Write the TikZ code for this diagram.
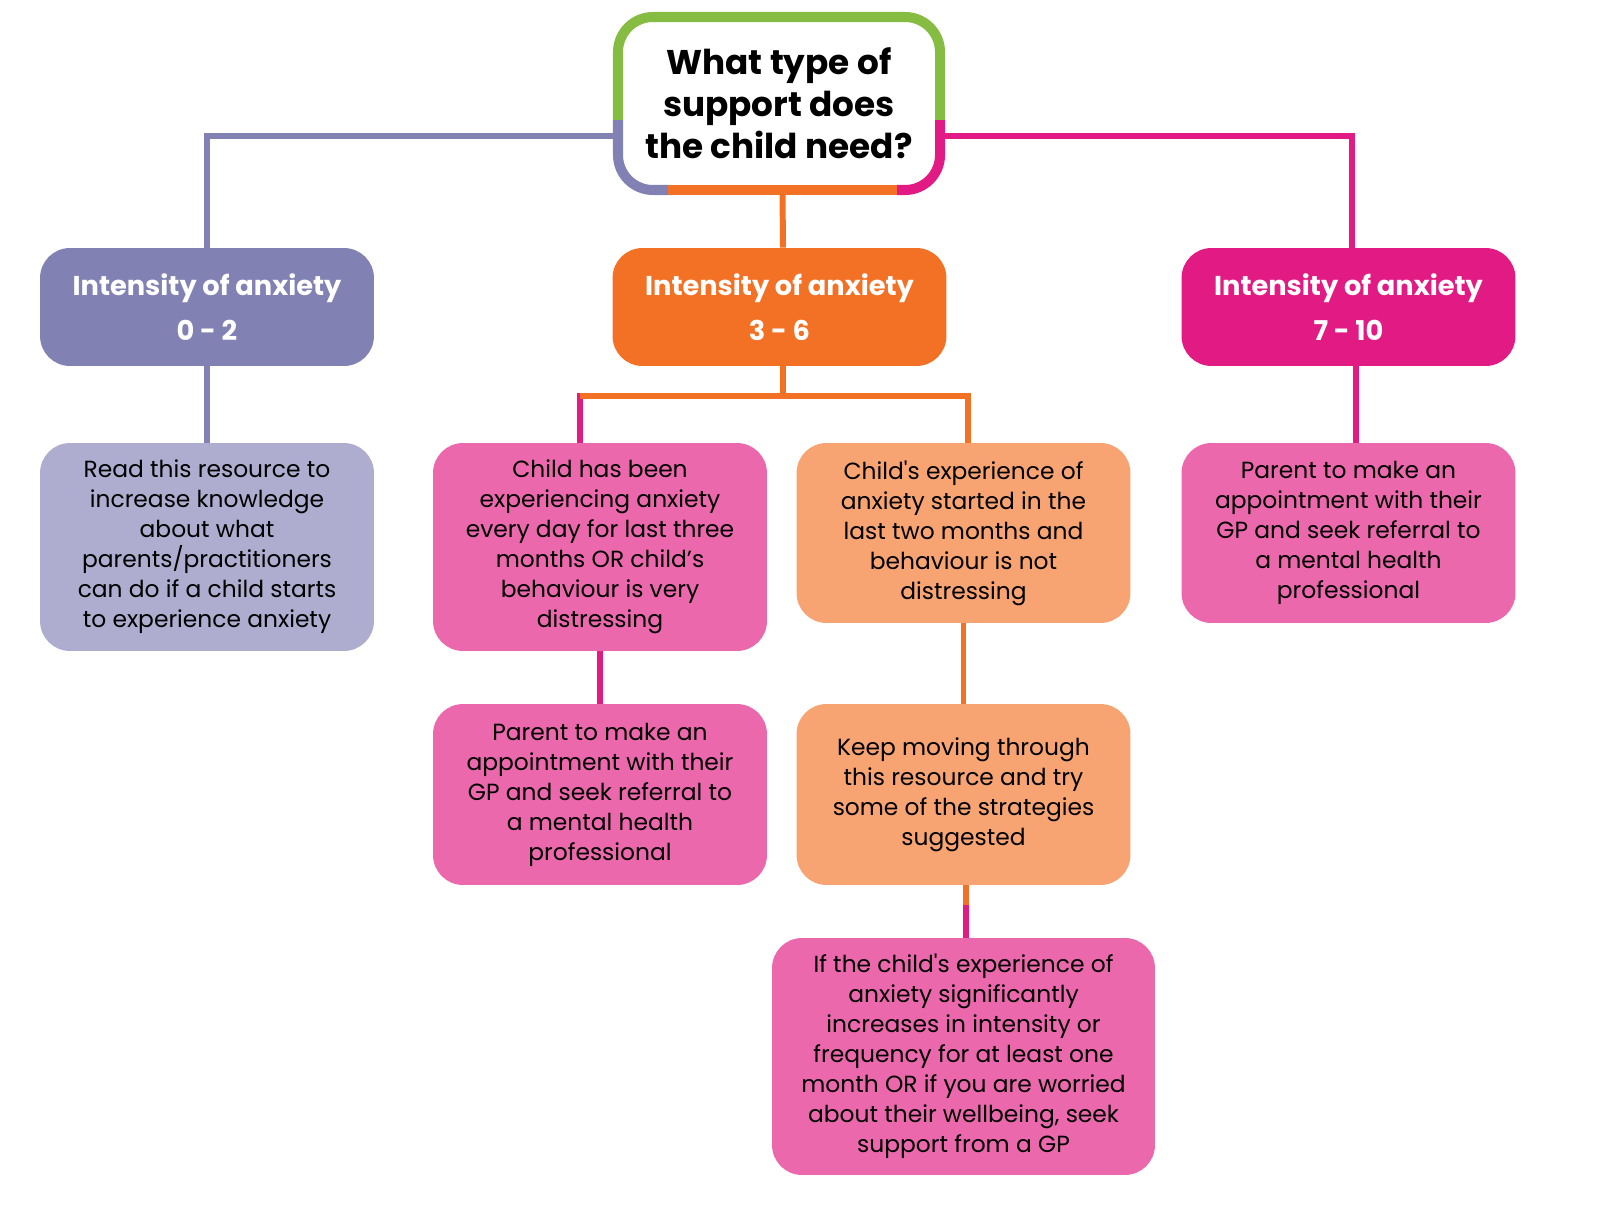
\documentclass[tikz,border=0pt]{standalone}
\usepackage{fontspec}
\setmainfont{Poppins}
\usetikzlibrary{positioning, backgrounds}

\definecolor{qgreen}{HTML}{86BC42}
\definecolor{lpurple}{HTML}{8281B3}
\definecolor{llpurple}{HTML}{AEADCF}
\definecolor{lorange}{HTML}{F37124}
\definecolor{llorange}{HTML}{F7A472}
\definecolor{lmagenta}{HTML}{E21A84}
\definecolor{lpink}{HTML}{EC68AD}

\tikzset{
  levelbox/.style={rounded corners=0.6cm, minimum width=6.68cm, minimum height=2.36cm,
    align=center, text=white, font=\bfseries\fontsize{15.5}{25.6}\selectfont},
  infobox/.style={rounded corners=0.6cm, minimum width=6.68cm, align=center,
    inner sep=0pt, font=\fontsize{13.3}{17.1}\selectfont},
  link/.style={line width=3.4pt}
}

\begin{document}
\begin{tikzpicture}[x=0.02cm, y=-0.02cm]
  \useasboundingbox (0,0) rectangle (1600,1207);

  % Question at the top
  \node[minimum width=6.44cm, minimum height=3.46cm, align=center,
        font=\bfseries\fontsize{19.5}{23.9}\selectfont] (q) at (779,103.5)
        {What type of\\support does\\the child need?};
  % its border in four colours
  \def\qrad{0.7cm}
  \draw[qgreen, line width=5.7pt, rounded corners=\qrad]
    (618,120) -- (618,17) -- (940,17) -- (940,120);
  \draw[lpurple, line width=5.7pt, rounded corners=\qrad]
    (618,120) -- (618,190) -- (668,190);
  \draw[lorange, line width=5.7pt] (668,190) -- (897,190);
  \draw[lmagenta, line width=5.7pt, rounded corners=\qrad]
    (897,190) -- (940,190) -- (940,120);

  % Intensity levels
  \node[levelbox, fill=lpurple] (l1) at (207,307) {Intensity of anxiety\\0 - 2};
  \node[levelbox, fill=lorange] (m1) at (779.5,307) {Intensity of anxiety\\3 - 6};
  \node[levelbox, fill=lmagenta] (r1) at (1348.5,307) {Intensity of anxiety\\7 - 10};

  % Second row
  \node[infobox, fill=llpurple, minimum height=4.16cm] (l2) at (207,547)
    {Read this resource to\\increase knowledge\\about what\\parents/practitioners\\can do if a child starts\\to experience anxiety};
  \node[infobox, fill=lpink, minimum height=4.16cm] (m2a) at (600,547)
    {Child has been\\experiencing anxiety\\every day for last three\\months OR child’s\\behaviour is very\\distressing};
  \node[infobox, fill=llorange, minimum height=3.6cm] (m2b) at (963.5,533)
    {Child\textquotesingle s experience of\\anxiety started in the\\last two months and\\behaviour is not\\distressing};
  \node[infobox, fill=lpink, minimum height=3.6cm] (r2) at (1348.5,533)
    {Parent to make an\\appointment with their\\GP and seek referral to\\a mental health\\professional};

  % Third row
  \node[infobox, fill=lpink, minimum height=3.62cm] (m3a) at (600,794.5)
    {Parent to make an\\appointment with their\\GP and seek referral to\\a mental health\\professional};
  \node[infobox, fill=llorange, minimum height=3.62cm] (m3b) at (963.5,794.5)
    {Keep moving through\\this resource and try\\some of the strategies\\suggested};

  % Last box
  \node[infobox, fill=lpink, minimum width=7.66cm, minimum height=4.74cm] (m4) at (963.5,1056.5)
    {If the child\textquotesingle s experience of\\anxiety significantly\\increases in intensity or\\frequency for at least one\\month OR if you are worried\\about their wellbeing, seek\\support from a GP};

  % Connectors, behind the boxes
  \begin{scope}[on background layer]
    \draw[link, lpurple] ([yshift=-0.65cm]q.west) -| (l1.north);
    \draw[link, lmagenta] ([yshift=-0.65cm]q.east) -| ([xshift=0.07cm]r1.north);
    \draw[link, lorange] ([xshift=0.07cm]q.south) -- ([xshift=0.07cm]m1.north);
    \draw[link, lpurple] (l1.south) -- (l2.north);
    \draw[link, lmagenta] ([xshift=0.15cm]r1.south) -- ([xshift=0.15cm]r2.north);

    % split below the middle level
    \path ([xshift=0.07cm]m1.south) ++(0,30) coordinate (ms);
    \coordinate (m2atop) at ([xshift=-0.4cm]m2a.north);
    \coordinate (m2btop) at ([xshift=0.09cm]m2b.north);
    \draw[link, lorange] ([xshift=0.07cm]m1.south) -- (ms);
    \draw[link, lmagenta, line cap=rect] (m2atop |- ms) -- (m2atop);
    \draw[link, lorange] (m2atop |- ms) -- (m2btop |- ms) -- (m2btop);

    \draw[link, lmagenta] (m2a.south) -- (m3a.north);
    \draw[link, lorange] (m2b.south) -- (m3b.north);
    \path ([xshift=0.05cm]m3b.south) ++(0,20) coordinate (mk);
    \draw[link, lorange] ([xshift=0.05cm]m3b.south) -- (mk);
    \draw[link, lmagenta] (mk) -- ([xshift=0.05cm]m4.north);
  \end{scope}
\end{tikzpicture}
\end{document}
